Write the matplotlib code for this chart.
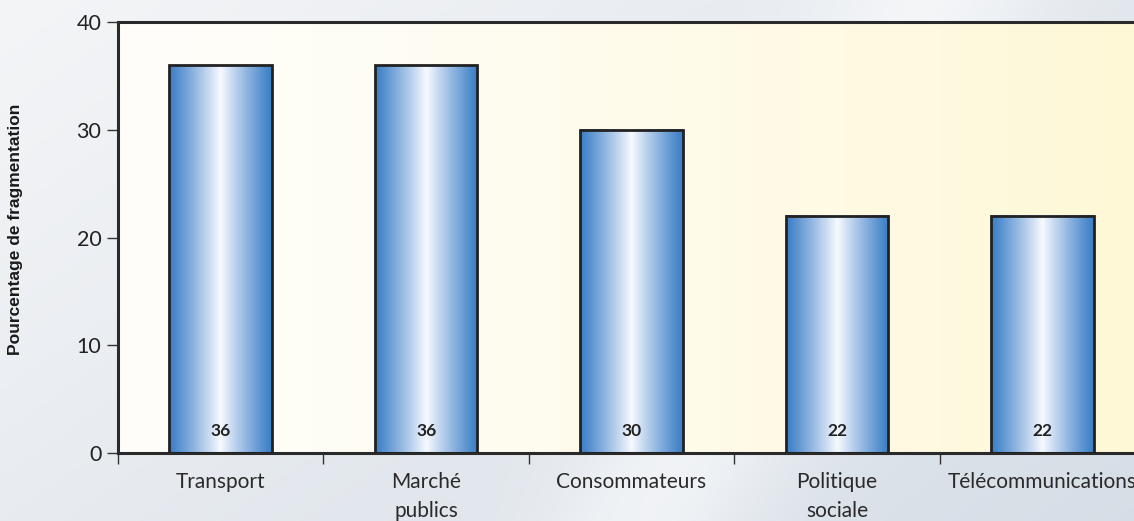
import numpy as np
import matplotlib
matplotlib.use('Agg')
import matplotlib.pyplot as plt
from matplotlib.colors import to_rgb

categories = ["Transport", "Marché\npublics", "Consommateurs", "Politique\nsociale", "Télécommunications"]
values = [36, 36, 30, 22, 22]
yticks = [0, 10, 20, 30, 40]
ylabel = "Pourcentage de fragmentation"

W, H = 1134, 521
fig = plt.figure(figsize=(W / 100, H / 100), dpi=100)

# figure background gradient
bg = fig.add_axes([0, 0, 1, 1], zorder=-10)
bg.set_axis_off()
nx, ny = 400, 200
xx, yy = np.meshgrid(np.linspace(0, 1, nx), np.linspace(0, 1, ny))
c0 = np.array(to_rgb('#f4f5f7'))
c1 = np.array(to_rgb('#ccd6e1'))
img = c0 + (c1 - c0) * (0.45 * xx + 0.3 * yy)[..., None]
band = np.exp(-((xx - 0.82 + 0.25 * yy) / 0.10) ** 2)
img = img + (1 - img) * 0.55 * band[..., None]
bg.imshow(np.clip(img, 0, 1), extent=[0, 1, 0, 1], aspect='auto', origin='upper')
bg.set_xlim(0, 1)
bg.set_ylim(0, 1)

ax = fig.add_axes([118 / W, (H - 453) / H, (1145 - 118) / W, (453 - 22) / H])
x = np.arange(len(categories))

# axes face gradient
a0 = np.array(to_rgb('#fefefa'))
a1 = np.array(to_rgb('#fff8d6'))
t = (np.linspace(0, 1, 300) ** 1.3)[None, :, None]
face = a0 + (a1 - a0) * t
ax.imshow(face, extent=[-0.5, 4.5, 0, 40], aspect='auto', zorder=0, origin='lower')

bars = ax.bar(x, values, width=0.5, facecolor='none', edgecolor='#222222',
              linewidth=2, zorder=3)
blue = np.array(to_rgb('#3a7ec6'))
white = np.array(to_rgb('#f7f9ff'))
s = np.linspace(0, 1, 200)
prof = (1 - np.abs(2 * s - 1)) ** 1.1
grad = (blue + (white - blue) * prof[:, None])[None, :, :]
for b in bars:
    x0, y0 = b.get_x(), b.get_y()
    ax.imshow(grad, extent=[x0, x0 + b.get_width(), y0, y0 + b.get_height()],
              aspect='auto', zorder=2, origin='lower')

for xi, v in zip(x, values):
    ax.text(xi, 2, str(v), ha='center', va='center', fontsize=12.5,
            fontweight='bold', family='Lato', color='#222222', zorder=4)

ax.set_xlim(-0.5, 4.5)
ax.set_ylim(0, 40)
ax.set_yticks(yticks)
ax.set_yticklabels([str(v) for v in yticks], family='Lato', fontsize=15.5, color='#222222')
ax.set_xticks(x)
ax.set_xticklabels(categories, family='Lato', fontsize=15, color='#2a2a2a', linespacing=1.55)
ax.set_xticks(np.arange(-0.5, 5, 1.0), minor=True)
ax.tick_params(axis='x', which='major', length=0, pad=14)
ax.tick_params(axis='x', which='minor', length=8, width=1, color='#333333')
ax.tick_params(axis='y', length=8, width=1, color='#333333', pad=4)

for sp in ['top', 'left', 'bottom']:
    ax.spines[sp].set_linewidth(2.2)
    ax.spines[sp].set_color('#2a2a2a')
ax.spines['right'].set_visible(False)

fig.text(16 / W, 1 - 229 / H, ylabel, rotation=90, ha='center', va='center',
         family='Liberation Sans', fontweight='bold', fontsize=12.5, color='#1a1a1a')

fig.savefig('out.png', dpi=100)
